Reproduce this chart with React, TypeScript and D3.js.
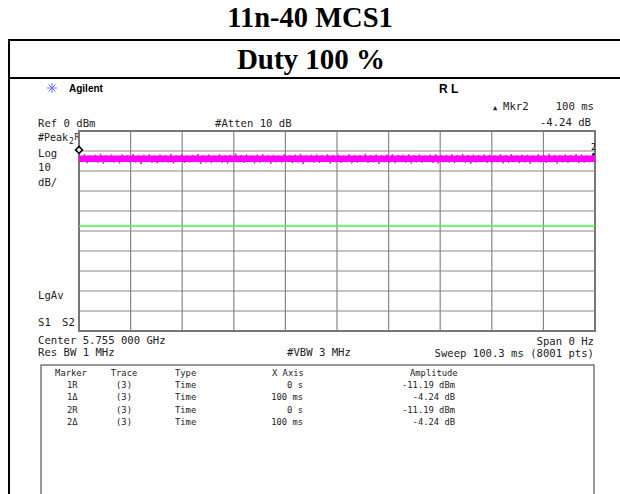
import React from "react";
import * as d3 from "d3";

// sweep 0 .. 100.3 ms, ref 0 dBm, 10 dB/div
const sweepMs = [0, 100.3];
const refRange = [0, -100];
const gridCols = 10;
const gridRows = 10;
const displayLineDbm = -47.5;

// trace envelope (dBm), peaks and valleys across the sweep
const traceHi = [
  -12.0, -11.6, -12.3, -11.9, -11.4, -12.1, -11.8, -12.4, -11.7, -12.0,
  -11.5, -12.2, -11.9, -11.6, -12.3, -11.8, -12.0, -11.4, -12.1, -11.7,
  -12.2, -11.9, -11.5, -12.0, -11.8, -12.3, -11.6, -12.1, -11.9, -11.3,
  -12.0, -11.7, -12.2, -11.8, -11.5, -12.1, -11.9, -12.4, -11.6, -12.0,
  -11.8, -11.4, -12.2, -11.9, -11.7, -12.1, -11.5, -12.0, -11.8, -12.3,
  -11.6, -11.9, -12.1, -11.4, -12.0, -11.7, -12.2, -11.8, -11.5, -12.0,
  -11.9, -11.6, -12.1, -11.7, -12.3, -11.8, -11.5, -12.0, -11.9, -11.6,
  -12.2, -11.4, -12.0, -11.8, -12.1, -11.7, -11.9, -12.3, -11.6, -12.0,
  -11.5, -12.1, -11.8, -11.9, -12.2, -11.6, -12.0, -11.4, -11.9, -12.1,
  -11.7, -12.0, -11.5, -11.8, -12.2, -11.9,
];
const traceLo = [
  -15.6, -16.1, -15.3, -15.9, -16.4, -15.5, -15.8, -16.2, -15.4, -16.0,
  -15.7, -16.6, -15.5, -15.9, -16.2, -15.6, -15.8, -16.3, -15.4, -16.0,
  -15.7, -15.5, -16.5, -15.8, -16.1, -15.6, -15.9, -16.3, -15.5, -15.7,
  -16.0, -15.4, -16.2, -15.8, -15.6, -16.4, -15.7, -15.9, -15.5, -16.1,
  -15.8, -16.6, -15.6, -15.9, -16.0, -15.5, -16.3, -15.7, -15.9, -15.6,
  -16.2, -15.8, -15.5, -16.0, -15.7, -16.4, -15.6, -15.9, -16.1, -15.5,
  -15.8, -16.2, -15.7, -15.9, -15.4, -16.0, -16.3, -15.6, -15.8, -16.1,
  -15.5, -15.9, -16.5, -15.7, -15.6, -16.0, -15.8, -15.4, -16.2, -15.9,
  -15.6, -16.1, -15.7, -16.4, -15.5, -15.8, -16.0, -15.6, -16.3, -15.7,
  -15.9, -15.5, -16.1, -15.8, -15.6, -16.0,
];
const coreBand = [-12.3, -15.5];

const markers = [
  { id: "1R", trace: "(3)", type: "Time", x: "0 s", amp: "-11.19 dBm" },
  { id: "1\u0394", trace: "(3)", type: "Time", x: "100 ms", amp: "-4.24 dB" },
  { id: "2R", trace: "(3)", type: "Time", x: "0 s", amp: "-11.19 dBm" },
  { id: "2\u0394", trace: "(3)", type: "Time", x: "100 ms", amp: "-4.24 dB" },
];
const mkrRefMs = 0;
const mkrRefDbm = -11.19;
const mkrDeltaMs = 100;
const mkrDeltaDb = -4.24;

const mono = "'DejaVu Sans Mono', monospace";

const App: React.FC = () => {
  const gx = { left: 79, right: 595, top: 131, bottom: 331 };

  const x = d3.scaleLinear().domain(sweepMs).range([gx.left, gx.right]);
  const y = d3.scaleLinear().domain(refRange).range([gx.top, gx.bottom]);

  const colTicks = d3.range(gridCols + 1).map((i) => sweepMs[0] + ((sweepMs[1] - sweepMs[0]) * i) / gridCols);
  const rowTicks = d3.range(gridRows + 1).map((i) => refRange[0] + ((refRange[1] - refRange[0]) * i) / gridRows);

  // interleave peaks and valleys so the trace zigzags like the noisy sweep
  const n = traceHi.length;
  const pts: [number, number][] = [];
  for (let i = 0; i < n; i++) {
    pts.push([(sweepMs[1] * (2 * i)) / (2 * n - 1), traceHi[i]]);
    pts.push([(sweepMs[1] * (2 * i + 1)) / (2 * n - 1), traceLo[i]]);
  }
  const line = d3
    .line<[number, number]>()
    .x((d) => x(d[0]))
    .y((d) => y(d[1]));
  const area = d3
    .area<number>()
    .x((d) => x(d))
    .y0(y(coreBand[1]))
    .y1(y(coreBand[0]));

  const m1x = x(mkrRefMs);
  const m1y = y(mkrRefDbm);
  const m2x = x(mkrDeltaMs);
  const m2y = y(mkrRefDbm + mkrDeltaDb);

  const star = d3.range(8).map((i) => (i * Math.PI) / 4);

  const colX = { marker: 67, trace: 124, type: 175, xaxis: 303, amp: 455 };
  const rowY = (i: number) => 388 + i * 12.3;

  return (
    <div style={{ position: "absolute", left: 0, top: 0 }}>
      <svg width={620} height={494} style={{ display: "block", background: "#fff" }}>
        {/* page titles */}
        <text x={310} y={27} textAnchor="middle" fontFamily="'Liberation Serif', serif" fontWeight="bold" fontSize={28.5}>
          11n-40 MCS1
        </text>
        <line x1={8} x2={620} y1={40} y2={40} stroke="#000" strokeWidth={2} />
        <text x={311} y={69} textAnchor="middle" fontFamily="'Liberation Serif', serif" fontWeight="bold" fontSize={29}>
          Duty 100 %
        </text>
        <line x1={8} x2={620} y1={78} y2={78} stroke="#000" strokeWidth={2} />
        <line x1={9} x2={9} y1={39} y2={494} stroke="#000" strokeWidth={2} />

        {/* analyzer header */}
        <g stroke="#7070ff" strokeWidth={1}>
          {star.map((a, i) => (
            <line key={i} x1={52} y1={88} x2={52 + 5 * Math.cos(a)} y2={88 + 5 * Math.sin(a)} />
          ))}
        </g>
        <text x={69} y={92} fontFamily="'Liberation Sans', Arial, sans-serif" fontWeight="bold" fontSize={10}>
          Agilent
        </text>
        <text x={439} y={93} fontFamily="'Liberation Sans', Arial, sans-serif" fontWeight="bold" fontSize={12}>
          R L
        </text>
        <g fontFamily={mono} fontSize={10.6} fill="#222">
          <text x={493} y={110} fontSize={7}>{"\u25B2"}</text>
          <text x={503} y={110}>Mkr2</text>
          <text x={594} y={110} textAnchor="end">100 ms</text>
          <text x={591} y={126} textAnchor="end">-4.24 dB</text>
          <text x={38} y={127}>Ref 0 dBm</text>
          <text x={215} y={127}>#Atten 10 dB</text>
          <text x={38} y={141} fontSize={10}>#Peak</text>
          <text x={69} y={144} fontSize={8}>2</text>
          <text x={74.5} y={140} fontSize={8}>R</text>
          <text x={38} y={157}>Log</text>
          <text x={38} y={171}>10</text>
          <text x={38} y={186}>dB/</text>
          <text x={38} y={299}>LgAv</text>
          <text x={38} y={326}>S1</text>
          <text x={62} y={326}>S2</text>
          <text x={38} y={344}>Center 5.755 000 GHz</text>
          <text x={594} y={345} textAnchor="end">Span 0 Hz</text>
          <text x={38} y={356}>Res BW 1 MHz</text>
          <text x={287} y={356}>#VBW 3 MHz</text>
          <text x={594} y={357} textAnchor="end">Sweep 100.3 ms (8001 pts)</text>
        </g>

        {/* graticule */}
        <g stroke="#888" strokeWidth={1.2}>
          {colTicks.map((t, i) => (
            <line key={"c" + i} x1={x(t)} x2={x(t)} y1={gx.top} y2={gx.bottom} />
          ))}
          {rowTicks.map((t, i) => (
            <line key={"r" + i} x1={gx.left} x2={gx.right} y1={y(t)} y2={y(t)} />
          ))}
        </g>
        <rect x={gx.left} y={gx.top} width={gx.right - gx.left} height={gx.bottom - gx.top} fill="none" stroke="#777" strokeWidth={2} />

        {/* display line */}
        <line x1={gx.left} x2={gx.right} y1={y(displayLineDbm)} y2={y(displayLineDbm)} stroke="#33ff33" strokeWidth={1.5} />

        {/* trace */}
        <path d={area(sweepMs) || ""} fill="#ff00ff" />
        <path d={line(pts) || ""} fill="none" stroke="#ff00ff" strokeWidth={1} />

        {/* markers */}
        <path d={`M${m1x},${m1y - 7} l3.5,3.5 l-3.5,3.5 l-3.5,-3.5 z`} fill="#fff" stroke="#000" strokeWidth={1.5} />
        <path d={`M${m2x},${m2y - 9} l1.5,1.5 l-1.5,1.5 l-1.5,-1.5 z`} fill="#000" />
        <text x={m2x} y={m2y - 12} fontFamily={mono} fontSize={8} textAnchor="middle">2</text>

        {/* marker table */}
        <rect x={41} y={365} width={553} height={140} fill="none" stroke="#555" strokeWidth={1.2} />
        <g fontFamily={mono} fontSize={8.8} fill="#222">
          <text x={colX.marker + 4} y={376} textAnchor="middle">Marker</text>
          <text x={colX.trace} y={376} textAnchor="middle">Trace</text>
          <text x={colX.type} y={376}>Type</text>
          <text x={272} y={376}>X Axis</text>
          <text x={410} y={376}>Amplitude</text>
          {markers.map((m, i) => (
            <g key={m.id}>
              <text x={colX.marker} y={rowY(i)}>{m.id}</text>
              <text x={colX.trace} y={rowY(i)} textAnchor="middle">{m.trace}</text>
              <text x={colX.type} y={rowY(i)}>{m.type}</text>
              <text x={colX.xaxis} y={rowY(i)} textAnchor="end">{m.x}</text>
              <text x={colX.amp} y={rowY(i)} textAnchor="end">{m.amp}</text>
            </g>
          ))}
        </g>
      </svg>
    </div>
  );
};

export default App;
